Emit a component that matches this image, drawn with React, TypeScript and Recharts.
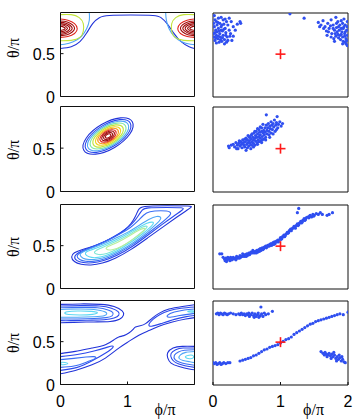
import { ComposedChart, Line, Scatter, XAxis, YAxis } from 'recharts';

// axes, in units of pi
const PHI_TICKS = [0, 1, 2];
const THETA_TICKS = [0, 0.5];
const PHI_RANGE = [0, 2];
const THETA_RANGE = [0, 0.98];

// true direction (red cross)
const TARGET = [[1, 0.5]];

// ---------- row 1 contours [phi, theta]
const r1Blue = [[0, 0.56], [0.16, 0.58], [0.29, 0.64], [0.39, 0.74], [0.48, 0.85], [0.58, 0.92], [0.73, 0.945], [1.05, 0.95], [1.38, 0.945], [1.5, 0.92], [1.59, 0.85], [1.69, 0.74], [1.8, 0.64], [1.92, 0.58], [2, 0.56]];
const r1LightL = [[0.43, 0.975], [0.43, 0.89], [0.39, 0.79], [0.31, 0.7], [0.19, 0.64], [0.06, 0.61], [0, 0.605]];
const r1LightR = [[1.57, 0.975], [1.58, 0.89], [1.62, 0.79], [1.7, 0.7], [1.81, 0.64], [1.94, 0.61], [2, 0.605]];
const r1GreenL = [[0, 0.955], [0.16, 0.955], [0.28, 0.92], [0.34, 0.85], [0.34, 0.76], [0.29, 0.69], [0.16, 0.655], [0, 0.65]];
const r1GreenR = [[2, 0.955], [1.84, 0.955], [1.72, 0.92], [1.66, 0.85], [1.66, 0.76], [1.71, 0.69], [1.84, 0.655], [2, 0.65]];
const r1RedL = [[0, 0.905], [0.11, 0.89], [0.21, 0.85], [0.25, 0.79], [0.21, 0.735], [0.11, 0.7], [0, 0.69]];
const r1RedR = [[2, 0.905], [1.89, 0.89], [1.79, 0.85], [1.75, 0.79], [1.79, 0.735], [1.89, 0.7], [2, 0.69]];
const r1DarkL = [
  [[0, 0.88], [0.1, 0.87], [0.18, 0.835], [0.21, 0.795], [0.18, 0.755], [0.1, 0.72], [0, 0.71]],
  [[0, 0.865], [0.08, 0.855], [0.15, 0.825], [0.175, 0.795], [0.15, 0.765], [0.08, 0.735], [0, 0.725]],
  [[0, 0.85], [0.07, 0.84], [0.12, 0.82], [0.14, 0.795], [0.12, 0.77], [0.07, 0.75], [0, 0.74]],
  [[0, 0.835], [0.05, 0.83], [0.09, 0.81], [0.105, 0.795], [0.09, 0.78], [0.05, 0.76], [0, 0.755]],
  [[0, 0.82], [0.03, 0.815], [0.06, 0.805], [0.07, 0.795], [0.06, 0.785], [0.03, 0.775], [0, 0.77]],
];
const r1DarkR = [
  [[2, 0.88], [1.9, 0.87], [1.82, 0.835], [1.79, 0.795], [1.82, 0.755], [1.9, 0.72], [2, 0.71]],
  [[2, 0.865], [1.92, 0.855], [1.85, 0.825], [1.825, 0.795], [1.85, 0.765], [1.92, 0.735], [2, 0.725]],
  [[2, 0.85], [1.93, 0.84], [1.88, 0.82], [1.86, 0.795], [1.88, 0.77], [1.93, 0.75], [2, 0.74]],
  [[2, 0.835], [1.95, 0.83], [1.91, 0.81], [1.895, 0.795], [1.91, 0.78], [1.95, 0.76], [2, 0.755]],
  [[2, 0.82], [1.97, 0.815], [1.94, 0.805], [1.93, 0.795], [1.94, 0.785], [1.97, 0.775], [2, 0.77]],
];

// ---------- row 2 contours (closed rings, outer to inner)
const r2Rings = [
  [[1.111, 0.822], [1.07, 0.665], [0.818, 0.494], [0.503, 0.408], [0.309, 0.458], [0.35, 0.615], [0.602, 0.786], [0.917, 0.872]],
  [[1.076, 0.806], [1.036, 0.666], [0.805, 0.511], [0.518, 0.431], [0.344, 0.474], [0.384, 0.614], [0.615, 0.769], [0.902, 0.849]],
  [[1.04, 0.79], [1.003, 0.664], [0.795, 0.524], [0.537, 0.452], [0.38, 0.49], [0.417, 0.616], [0.625, 0.756], [0.883, 0.828]],
  [[0.997, 0.77], [0.966, 0.66], [0.785, 0.538], [0.56, 0.476], [0.423, 0.51], [0.454, 0.62], [0.635, 0.742], [0.86, 0.804]],
  [[0.953, 0.75], [0.929, 0.654], [0.777, 0.55], [0.585, 0.498], [0.467, 0.53], [0.491, 0.626], [0.643, 0.73], [0.835, 0.782]],
  [[0.91, 0.731], [0.891, 0.651], [0.766, 0.564], [0.608, 0.522], [0.51, 0.549], [0.529, 0.629], [0.654, 0.716], [0.812, 0.758]],
  [[0.874, 0.715], [0.86, 0.647], [0.758, 0.575], [0.628, 0.541], [0.546, 0.566], [0.56, 0.633], [0.662, 0.705], [0.792, 0.739]],
  [[0.839, 0.699], [0.829, 0.644], [0.75, 0.586], [0.647, 0.56], [0.581, 0.581], [0.591, 0.636], [0.67, 0.694], [0.773, 0.72]],
  [[0.811, 0.686], [0.803, 0.642], [0.741, 0.597], [0.661, 0.577], [0.609, 0.594], [0.617, 0.638], [0.679, 0.683], [0.759, 0.703]],
  [[0.781, 0.672], [0.776, 0.64], [0.733, 0.608], [0.676, 0.595], [0.639, 0.608], [0.644, 0.64], [0.687, 0.672], [0.744, 0.685]],
  [[0.753, 0.659], [0.751, 0.639], [0.725, 0.62], [0.69, 0.612], [0.667, 0.621], [0.669, 0.641], [0.695, 0.66], [0.73, 0.668]],
];

// ---------- row 3 contours (closed, outer to inner)
const r3Rings = [
  [[0.15, 0.37], [0.2, 0.31], [0.3, 0.28], [0.45, 0.27], [0.62, 0.29], [0.82, 0.35], [1.05, 0.45], [1.3, 0.59], [1.55, 0.73], [1.75, 0.84], [1.88, 0.91], [1.96, 0.95], [1.96, 0.965], [1.6, 0.965], [1.2, 0.965], [1.16, 0.92], [1.12, 0.84], [1.06, 0.76], [0.95, 0.67], [0.8, 0.6], [0.62, 0.53], [0.45, 0.48], [0.3, 0.45], [0.2, 0.42]],
  [[0.19, 0.37], [0.24, 0.32], [0.33, 0.3], [0.47, 0.295], [0.64, 0.32], [0.84, 0.38], [1.06, 0.48], [1.3, 0.62], [1.52, 0.75], [1.7, 0.85], [1.84, 0.925], [1.84, 0.945], [1.6, 0.945], [1.27, 0.945], [1.22, 0.92], [1.17, 0.86], [1.11, 0.79], [1.02, 0.72], [0.9, 0.65], [0.74, 0.58], [0.58, 0.52], [0.42, 0.47], [0.28, 0.43]],
  [[0.23, 0.38], [0.28, 0.335], [0.37, 0.315], [0.5, 0.315], [0.66, 0.34], [0.86, 0.41], [1.08, 0.51], [1.3, 0.64], [1.5, 0.76], [1.64, 0.85], [1.66, 0.9], [1.5, 0.91], [1.32, 0.9], [1.24, 0.86], [1.16, 0.79], [1.05, 0.71], [0.9, 0.64], [0.73, 0.57], [0.56, 0.51], [0.41, 0.46], [0.29, 0.42]],
  [[0.28, 0.39], [0.33, 0.35], [0.42, 0.335], [0.55, 0.34], [0.7, 0.37], [0.9, 0.44], [1.1, 0.54], [1.3, 0.66], [1.46, 0.77], [1.52, 0.83], [1.44, 0.85], [1.32, 0.81], [1.18, 0.74], [1.02, 0.66], [0.86, 0.6], [0.7, 0.54], [0.54, 0.49], [0.4, 0.45], [0.31, 0.42]],
  [[0.36, 0.4], [0.42, 0.365], [0.52, 0.355], [0.66, 0.375], [0.84, 0.435], [1.04, 0.53], [1.24, 0.645], [1.38, 0.74], [1.4, 0.78], [1.3, 0.77], [1.14, 0.7], [0.96, 0.62], [0.78, 0.55], [0.6, 0.49], [0.46, 0.45], [0.38, 0.43]],
  [[0.48, 0.42], [0.56, 0.39], [0.68, 0.4], [0.86, 0.46], [1.06, 0.56], [1.24, 0.67], [1.32, 0.73], [1.24, 0.73], [1.08, 0.655], [0.9, 0.575], [0.72, 0.51], [0.56, 0.46]],
  [[0.66, 0.46], [0.76, 0.44], [0.92, 0.49], [1.1, 0.58], [1.26, 0.68], [1.27, 0.71], [1.18, 0.69], [1.02, 0.61], [0.84, 0.53], [0.7, 0.49]],
];

// ---------- row 4 contours
const r4TopBlob = [
  [[0, 0.935], [0.3, 0.94], [0.6, 0.935], [0.8, 0.91], [0.92, 0.86], [0.94, 0.81], [0.88, 0.76], [0.74, 0.735], [0.5, 0.73], [0.2, 0.725], [0, 0.72]],
  [[0, 0.915], [0.3, 0.92], [0.58, 0.915], [0.76, 0.89], [0.86, 0.85], [0.87, 0.81], [0.8, 0.775], [0.65, 0.755], [0.4, 0.75], [0.15, 0.745], [0, 0.745]],
  [[0, 0.895], [0.3, 0.9], [0.55, 0.895], [0.71, 0.87], [0.78, 0.84], [0.77, 0.8], [0.68, 0.78], [0.5, 0.77], [0.25, 0.765], [0, 0.765]],
  [[0, 0.875], [0.3, 0.88], [0.55, 0.87], [0.68, 0.84], [0.66, 0.805], [0.5, 0.79], [0.25, 0.785], [0, 0.785]],
];
const r4TopCore = [[0.08, 0.85], [0.25, 0.86], [0.48, 0.855], [0.58, 0.84], [0.5, 0.815], [0.28, 0.81], [0.1, 0.815], [0.05, 0.83]];
const r4BandUpper = [[0, 0.36], [0.22, 0.386], [0.47, 0.425], [0.67, 0.464], [0.8, 0.523], [0.87, 0.554], [0.945, 0.57], [1.02, 0.6], [1.08, 0.64], [1.12, 0.67], [1.19, 0.686], [1.27, 0.71], [1.37, 0.775], [1.47, 0.83], [1.62, 0.88], [1.82, 0.91], [2, 0.93]];
const r4BandLower = [[0, 0.125], [0.22, 0.164], [0.47, 0.23], [0.67, 0.308], [0.87, 0.425], [1.02, 0.503], [1.17, 0.575], [1.32, 0.63], [1.47, 0.68], [1.67, 0.73], [1.87, 0.765], [2, 0.78]];
const r4BandLeft = [
  [[0, 0.325], [0.25, 0.35], [0.5, 0.39], [0.68, 0.43], [0.77, 0.45], [0.78, 0.43], [0.68, 0.37], [0.48, 0.28], [0.25, 0.2], [0, 0.165]],
  [[0, 0.29], [0.2, 0.305], [0.38, 0.32], [0.5, 0.325], [0.52, 0.305], [0.4, 0.265], [0.2, 0.215], [0, 0.2]],
];
const r4BandRight = [
  [[2, 0.905], [1.8, 0.89], [1.62, 0.86], [1.48, 0.815], [1.38, 0.76], [1.32, 0.7], [1.36, 0.68], [1.5, 0.71], [1.7, 0.76], [1.88, 0.792], [2, 0.805]],
  [[2, 0.88], [1.85, 0.87], [1.7, 0.845], [1.6, 0.81], [1.62, 0.785], [1.78, 0.805], [2, 0.83]],
];
const r4LeftCore = [[0, 0.262], [0.07, 0.258], [0.13, 0.245], [0.07, 0.232], [0, 0.228], [0.01, 0.245]];
const r4RightCore = [[1.88, 0.855], [1.95, 0.862], [2, 0.86], [2, 0.845], [1.93, 0.843]];
const r4BottomBlob = [
  [[2, 0.445], [1.82, 0.445], [1.68, 0.425], [1.6, 0.37], [1.6, 0.31], [1.65, 0.25], [1.77, 0.21], [1.92, 0.18], [2, 0.172]],
  [[2, 0.425], [1.83, 0.425], [1.72, 0.405], [1.65, 0.36], [1.66, 0.3], [1.72, 0.255], [1.83, 0.225], [2, 0.2]],
  [[2, 0.405], [1.85, 0.4], [1.76, 0.38], [1.7, 0.34], [1.71, 0.29], [1.78, 0.26], [1.88, 0.24], [2, 0.225]],
  [[2, 0.385], [1.87, 0.375], [1.79, 0.345], [1.77, 0.305], [1.83, 0.28], [1.93, 0.265], [2, 0.255]],
];
const r4BottomCore = [[1.84, 0.325], [1.92, 0.345], [1.99, 0.345], [1.99, 0.3], [1.9, 0.3]];

// ---------- samples [phi, theta]
const r1Samples = [
  [0.02, 0.95], [0.03, 0.9], [0.05, 0.88], [0.08, 0.92], [0.12, 0.93], [0.15, 0.9], [0.1, 0.86], [0.06, 0.84], [0.02, 0.82], [0.04, 0.78],
  [0.08, 0.8], [0.12, 0.82], [0.16, 0.85], [0.2, 0.88], [0.22, 0.84], [0.18, 0.8], [0.14, 0.77], [0.1, 0.74], [0.05, 0.72], [0.02, 0.7],
  [0.03, 0.66], [0.07, 0.68], [0.11, 0.7], [0.15, 0.72], [0.19, 0.75], [0.24, 0.78], [0.26, 0.74], [0.21, 0.7], [0.17, 0.67], [0.13, 0.65],
  [0.09, 0.64], [0.05, 0.63], [0.01, 0.74], [0.01, 0.86], [0.06, 0.76], [0.12, 0.78], [0.17, 0.62], [0.22, 0.66], [0.28, 0.66], [0.3, 0.71],
  [0.33, 0.78], [0.36, 0.85], [0.4, 0.88], [0.41, 0.86], [0.27, 0.88], [0.24, 0.92], [0.3, 0.82], [0.2, 0.64], [0.14, 0.69], [0.08, 0.71],
  [0.04, 0.69], [0.09, 0.77], [0.13, 0.84], [0.07, 0.87], [0.18, 0.91], [0.03, 0.75], [0.11, 0.67], [0.16, 0.79], [0.19, 0.72], [0.25, 0.71],
  [1.56, 0.87], [1.6, 0.84], [1.63, 0.89], [1.66, 0.82], [1.7, 0.86], [1.72, 0.8], [1.68, 0.77], [1.75, 0.9], [1.78, 0.84], [1.8, 0.78],
  [1.76, 0.74], [1.82, 0.93], [1.85, 0.88], [1.86, 0.82], [1.84, 0.76], [1.88, 0.72], [1.9, 0.8], [1.92, 0.86], [1.94, 0.91], [1.96, 0.84],
  [1.98, 0.78], [1.95, 0.74], [1.92, 0.7], [1.97, 0.68], [1.99, 0.72], [1.93, 0.65], [1.97, 0.62], [1.89, 0.67], [1.86, 0.69], [1.82, 0.71],
  [1.79, 0.68], [1.99, 0.88], [1.99, 0.82], [1.96, 0.76], [1.91, 0.76], [1.88, 0.84], [1.83, 0.81], [1.74, 0.83], [1.71, 0.76], [1.81, 0.74],
  [1.87, 0.78], [1.93, 0.8], [1.95, 0.71], [1.9, 0.73], [1.98, 0.66], [1.94, 0.82], [1.85, 0.73], [1.78, 0.8], [1.83, 0.86], [1.9, 0.89],
  [1.64, 0.8], [1.58, 0.82], [1.69, 0.72], [1.75, 0.7], [1.8, 0.65], [1.96, 0.64], [1.99, 0.6], [1.92, 0.62], [1.14, 0.97], [1.35, 0.92],
];
const r2Samples = [
  [0.23, 0.53], [0.24, 0.51], [0.3, 0.55], [0.32, 0.52], [0.34, 0.57], [0.36, 0.54], [0.37, 0.5], [0.38, 0.56], [0.4, 0.53], [0.41, 0.58],
  [0.42, 0.55], [0.43, 0.51], [0.44, 0.6], [0.45, 0.57], [0.46, 0.54], [0.47, 0.52], [0.48, 0.58], [0.49, 0.62], [0.49, 0.48], [0.5, 0.55],
  [0.51, 0.6], [0.52, 0.57], [0.53, 0.53], [0.54, 0.63], [0.54, 0.59], [0.55, 0.56], [0.56, 0.61], [0.57, 0.66], [0.57, 0.54], [0.58, 0.58],
  [0.59, 0.63], [0.6, 0.6], [0.6, 0.56], [0.61, 0.68], [0.62, 0.62], [0.63, 0.59], [0.63, 0.65], [0.64, 0.7], [0.65, 0.57], [0.65, 0.63],
  [0.66, 0.67], [0.67, 0.6], [0.68, 0.64], [0.68, 0.72], [0.69, 0.69], [0.7, 0.62], [0.7, 0.66], [0.71, 0.59], [0.72, 0.7], [0.72, 0.74],
  [0.73, 0.64], [0.74, 0.68], [0.75, 0.71], [0.75, 0.61], [0.76, 0.66], [0.77, 0.74], [0.77, 0.69], [0.78, 0.63], [0.79, 0.77], [0.79, 0.89],
  [0.8, 0.71], [0.8, 0.67], [0.81, 0.74], [0.82, 0.79], [0.83, 0.7], [0.83, 0.66], [0.84, 0.76], [0.85, 0.73], [0.86, 0.81], [0.86, 0.68],
  [0.87, 0.77], [0.88, 0.72], [0.89, 0.79], [0.9, 0.75], [0.91, 0.83], [0.92, 0.7], [0.93, 0.77], [0.94, 0.8], [0.95, 0.87], [0.96, 0.74],
  [0.97, 0.78], [0.99, 0.81], [1.01, 0.76], [1.03, 0.79], [0.74, 0.78], [0.7, 0.75], [0.66, 0.73], [0.62, 0.7], [0.58, 0.67], [0.55, 0.64],
  [0.52, 0.65], [0.47, 0.61], [0.44, 0.56], [0.39, 0.59], [0.35, 0.5], [0.27, 0.54], [0.6, 0.52], [0.66, 0.55], [0.72, 0.57], [0.78, 0.6],
  [0.84, 0.63], [0.89, 0.67], [0.94, 0.72], [0.51, 0.51], [0.56, 0.5], [0.62, 0.54], [0.68, 0.58], [0.73, 0.6],
];
const r3Samples = [
  [0.1, 0.41], [0.13, 0.41], [0.15, 0.37], [0.17, 0.35], [0.18, 0.33], [0.19, 0.36], [0.21, 0.34], [0.22, 0.37], [0.24, 0.35], [0.25, 0.33],
  [0.27, 0.36], [0.28, 0.34], [0.3, 0.37], [0.31, 0.35], [0.33, 0.36], [0.35, 0.38], [0.36, 0.36], [0.38, 0.37], [0.4, 0.39], [0.41, 0.37],
  [0.43, 0.38], [0.45, 0.4], [0.46, 0.38], [0.48, 0.4], [0.5, 0.41], [0.51, 0.39], [0.53, 0.42], [0.55, 0.41], [0.56, 0.43], [0.58, 0.42],
  [0.6, 0.44], [0.61, 0.42], [0.63, 0.44], [0.65, 0.45], [0.66, 0.43], [0.68, 0.46], [0.7, 0.47], [0.71, 0.45], [0.73, 0.48], [0.75, 0.47],
  [0.76, 0.49], [0.78, 0.5], [0.79, 0.48], [0.81, 0.51], [0.83, 0.5], [0.84, 0.52], [0.86, 0.53], [0.87, 0.51], [0.89, 0.54], [0.91, 0.55],
  [0.92, 0.53], [0.94, 0.56], [0.96, 0.57], [0.97, 0.55], [0.99, 0.58], [1.0, 0.6], [1.02, 0.59], [1.03, 0.61], [1.05, 0.63], [1.06, 0.61],
  [1.08, 0.64], [1.1, 0.66], [1.11, 0.65], [1.13, 0.68], [1.15, 0.7], [1.16, 0.68], [1.18, 0.71], [1.2, 0.73], [1.21, 0.72], [1.23, 0.74],
  [1.25, 0.76], [1.26, 0.74], [1.28, 0.77], [1.3, 0.79], [1.31, 0.77], [1.33, 0.8], [1.35, 0.82], [1.36, 0.8], [1.38, 0.83], [1.4, 0.84],
  [1.42, 0.83], [1.44, 0.86], [1.46, 0.84], [1.48, 0.87], [1.5, 0.86], [1.53, 0.88], [1.56, 0.87], [1.59, 0.89], [1.62, 0.87], [1.69, 0.86],
  [1.72, 0.87], [1.77, 0.89], [1.25, 0.89], [1.27, 0.94], [0.2, 0.32], [0.26, 0.37], [0.34, 0.34], [0.39, 0.36], [0.44, 0.41], [0.49, 0.38],
  [0.54, 0.4], [0.59, 0.45], [0.64, 0.42], [0.69, 0.44], [0.74, 0.46], [0.8, 0.49], [0.85, 0.51], [0.9, 0.52], [0.95, 0.55], [1.01, 0.58],
  [1.07, 0.62], [1.12, 0.66], [1.17, 0.7], [1.22, 0.71], [1.27, 0.75], [1.32, 0.78], [1.37, 0.81], [1.43, 0.85], [1.49, 0.85],
];
const r4Samples = [
  [0.05, 0.83], [0.07, 0.84], [0.09, 0.82], [0.11, 0.84], [0.13, 0.83], [0.15, 0.82], [0.17, 0.84], [0.19, 0.83], [0.21, 0.82], [0.23, 0.83],
  [0.26, 0.84], [0.3, 0.83], [0.34, 0.82], [0.38, 0.83], [0.4, 0.82], [0.42, 0.84], [0.44, 0.82], [0.46, 0.83], [0.48, 0.81], [0.5, 0.83],
  [0.52, 0.82], [0.54, 0.8], [0.56, 0.82], [0.58, 0.84], [0.6, 0.81], [0.62, 0.83], [0.64, 0.8], [0.66, 0.82], [0.68, 0.79], [0.7, 0.81],
  [0.72, 0.83], [0.74, 0.8], [0.71, 0.91], [0.78, 0.82], [0.82, 0.83], [0.88, 0.86], [0.61, 0.79], [0.53, 0.84], [0.67, 0.84], [0.76, 0.84],
  [0.0, 0.26], [0.02, 0.25], [0.04, 0.26], [0.06, 0.24], [0.08, 0.25], [0.1, 0.26], [0.12, 0.24], [0.14, 0.25], [0.16, 0.26], [0.19, 0.25],
  [0.22, 0.26], [0.25, 0.26], [0.4, 0.28], [0.44, 0.29], [0.48, 0.3], [0.52, 0.31], [0.56, 0.32], [0.6, 0.34], [0.64, 0.35], [0.68, 0.37],
  [0.72, 0.39], [0.76, 0.41], [0.8, 0.42], [0.84, 0.44], [0.88, 0.45], [0.92, 0.46], [0.96, 0.47], [1.0, 0.49], [1.04, 0.51], [1.08, 0.53],
  [1.12, 0.54], [1.16, 0.56], [1.2, 0.59], [1.24, 0.61], [1.28, 0.63], [1.32, 0.65], [1.36, 0.67], [1.4, 0.69], [1.44, 0.71], [1.48, 0.72],
  [1.52, 0.74], [1.56, 0.75], [1.6, 0.76], [1.64, 0.77], [1.68, 0.78], [1.72, 0.79], [1.76, 0.8], [1.8, 0.81], [1.84, 0.82], [1.88, 0.83],
  [1.93, 0.82], [2.0, 0.85], [1.6, 0.39], [1.63, 0.37], [1.66, 0.38], [1.68, 0.36], [1.7, 0.35], [1.72, 0.37], [1.74, 0.34], [1.76, 0.36],
  [1.78, 0.33], [1.8, 0.35], [1.82, 0.31], [1.84, 0.33], [1.86, 0.3], [1.88, 0.32], [1.9, 0.28], [1.92, 0.3], [1.94, 0.27], [1.96, 0.26],
  [1.75, 0.31], [1.83, 0.28], [1.69, 0.33], [1.87, 0.35], [1.79, 0.38], [1.91, 0.33], [1.65, 0.35],
];

// ---------- styling
const C = {
  b1: '#2133d9', b2: '#2b48ec', b3: '#3a6ef4', lb: '#4fa6f6', cy: '#5cd8f2', aq: '#7fe7a6',
  yg: '#c2e43a', ye: '#f2d21f', or: '#f5961f', rd: '#e0251d', dr: '#9e0a0a',
};
const DOT = '#2f4ff0';
const FONT = '"Liberation Sans", Arial, sans-serif';
const TITLE_FONT = '"Liberation Serif", "DejaVu Serif", serif';

type Contour = { pts: number[][]; color: string; closed?: boolean };
const open = (pts: number[][], color: string): Contour => ({ pts, color });
const ring = (pts: number[][], color: string): Contour => ({ pts, color, closed: true });

const RING2_COLORS = [C.b1, C.b2, C.lb, C.aq, C.yg, C.ye, C.or, C.rd, C.dr, C.dr, C.dr];
const RING3_COLORS = [C.b1, C.b2, C.b3, C.lb, C.cy, '#7ee6d6', '#b6ee9a'];
const LEVEL4_COLORS = [C.b1, C.b2, C.b3, C.lb];

const CONTOURS: Contour[][] = [
  [
    open(r1Blue, C.b1), open(r1LightL, C.lb), open(r1LightR, C.lb), open(r1GreenL, C.yg), open(r1GreenR, C.yg),
    open(r1RedL, C.rd), open(r1RedR, C.rd),
    ...r1DarkL.map((p) => open(p, C.dr)), ...r1DarkR.map((p) => open(p, C.dr)),
  ],
  r2Rings.map((p, i) => ring(p, RING2_COLORS[i])),
  r3Rings.map((p, i) => ring(p, RING3_COLORS[i])),
  [
    ...r4TopBlob.map((p, i) => open(p, LEVEL4_COLORS[i])), ring(r4TopCore, C.cy),
    open(r4BandUpper, C.b1), open(r4BandLower, C.b1),
    ...r4BandLeft.map((p, i) => open(p, LEVEL4_COLORS[i + 1])), ring(r4LeftCore, C.cy),
    ...r4BandRight.map((p, i) => open(p, LEVEL4_COLORS[i + 1])), ring(r4RightCore, C.cy),
    ...r4BottomBlob.map((p, i) => open(p, LEVEL4_COLORS[i])), ring(r4BottomCore, C.cy),
  ],
];
const SAMPLES = [r1Samples, r2Samples, r3Samples, r4Samples];

// layout of the four rows (left column plot box; right column is offset by half a pixel)
const ROWS = [
  { top: 12.5, h: 84, titleY: 48 },
  { top: 106.5, h: 85, titleY: 150 },
  { top: 204.5, h: 84, titleY: 247 },
  { top: 300.5, h: 84, titleY: 343 },
];

const toRows = (a: number[][]) => a.map(([phi, theta]) => ({ phi, theta }));

const Dot = (p: any) => <circle cx={p.cx} cy={p.cy} r={1.6} fill={DOT} />;
const Plus = (p: any) => (
  <g>
    <line x1={p.cx - 5} x2={p.cx + 5} y1={p.cy} y2={p.cy} stroke="#ff1a1a" strokeWidth={1.6} />
    <line x1={p.cx} x2={p.cx} y1={p.cy - 5} y2={p.cy + 5} stroke="#ff1a1a" strokeWidth={1.6} />
  </g>
);

function Panel({ row, kind }: { row: number; kind: 'map' | 'samples' }) {
  const g = ROWS[row];
  const isMap = kind === 'map';
  const last = row === ROWS.length - 1;
  const chartLeft = isMap ? 0 : 200;
  const plotLeft = isMap ? 60.5 : 213;
  const plotW = isMap ? 134 : 135;
  const width = isMap ? 200 : 154;
  const top = isMap ? g.top : g.top + 0.5;
  const chartTop = Math.floor(top) - 8;
  const bottomH = last ? 30 : 1;
  const bottomPad = last ? 2 : 12;
  const height = top - chartTop + g.h + bottomH + bottomPad;
  const yW = plotLeft - chartLeft;
  const frame = { stroke: '#111', strokeWidth: 1 };
  const tickFont = { fontSize: 16, fill: '#000', fontFamily: FONT };

  return (
    <div style={{ position: 'absolute', left: chartLeft, top: chartTop }}>
      <ComposedChart
        width={width}
        height={height}
        margin={{ top: top - chartTop - 1, right: width - yW - plotW - 1, bottom: bottomPad, left: 0 }}
      >
        <XAxis
          xAxisId="b" dataKey="phi" type="number" domain={PHI_RANGE} ticks={PHI_TICKS} allowDataOverflow interval={0}
          height={bottomH} axisLine={frame} tickLine={frame} tickSize={-3} tickMargin={14}
          tick={last ? tickFont : false}
          tickFormatter={(v: number) => (isMap && v === 2 ? '' : String(v))}
        />
        <XAxis
          xAxisId="t" orientation="top" dataKey="phi" type="number" domain={PHI_RANGE} ticks={PHI_TICKS}
          allowDataOverflow interval={0} height={1} axisLine={frame} tickLine={frame} tickSize={-3} tick={false}
        />
        <YAxis
          yAxisId="l" dataKey="theta" type="number" domain={THETA_RANGE} ticks={THETA_TICKS} allowDataOverflow
          interval={0} width={yW} axisLine={frame} tickLine={frame} tickSize={-3} tickMargin={8.5}
          tick={isMap ? { ...tickFont, dy: 1 } : false}
        />
        <YAxis
          yAxisId="r" orientation="right" dataKey="theta" type="number" domain={THETA_RANGE} ticks={THETA_TICKS}
          allowDataOverflow interval={0} width={1} axisLine={frame} tickLine={frame} tickSize={-3} tick={false}
        />
        {isMap &&
          CONTOURS[row].map((c, i) => (
            <Line
              key={i}
              xAxisId="b"
              yAxisId="l"
              data={toRows(c.pts)}
              dataKey="theta"
              type={c.closed ? 'basisClosed' : 'natural'}
              stroke={c.color}
              strokeWidth={1.1}
              dot={false}
              activeDot={false}
              isAnimationActive={false}
            />
          ))}
        {!isMap && (
          <Scatter xAxisId="b" yAxisId="l" data={toRows(SAMPLES[row])} shape={Dot} isAnimationActive={false} />
        )}
        {!isMap && (
          <Scatter xAxisId="b" yAxisId="l" data={toRows(TARGET)} shape={Plus} isAnimationActive={false} />
        )}
      </ComposedChart>
    </div>
  );
}

function Title({ x, y, text, rotate }: { x: number; y: number; text: string; rotate?: boolean }) {
  return (
    <div style={{ position: 'absolute', left: x, top: y }}>
      <div
        style={{
          position: 'absolute',
          transform: `translate(-50%, -50%)${rotate ? ' rotate(-90deg)' : ''}`,
          font: `16px ${TITLE_FONT}`,
          lineHeight: 1,
          whiteSpace: 'nowrap',
          color: '#000',
        }}
      >
        {text}
      </div>
    </div>
  );
}

export default function App() {
  return (
    <div style={{ position: 'absolute', left: 0, top: 0, width: 354, height: 419, background: '#fff' }}>
      {ROWS.map((g, i) => (
        <Panel key={`m${i}`} row={i} kind="map" />
      ))}
      {ROWS.map((g, i) => (
        <Panel key={`s${i}`} row={i} kind="samples" />
      ))}
      {ROWS.map((g, i) => (
        <Title key={`t${i}`} x={14} y={g.titleY} text="θ/π" rotate />
      ))}
      <Title x={165} y={410} text="ϕ/π" />
      <Title x={313.5} y={410} text="ϕ/π" />
    </div>
  );
}
